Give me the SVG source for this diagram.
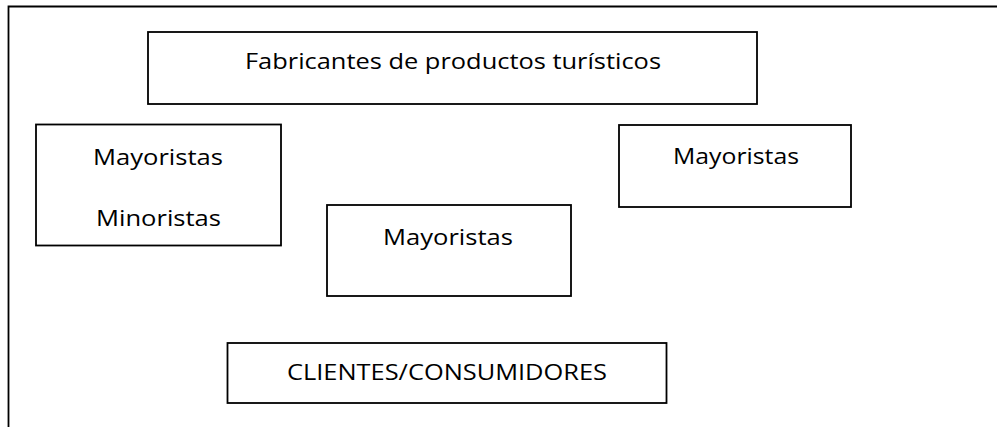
<svg xmlns="http://www.w3.org/2000/svg" width="997" height="427" viewBox="0 0 997 427">
<style>
.box{fill:#fff;stroke:#000;stroke-width:1.8}
.frame{fill:none;stroke:#000;stroke-width:1.8}
text{font-family:"Open Sans","Liberation Sans",sans-serif;font-size:22px;fill:#000}
</style>
<rect width="997" height="427" fill="#fff"/>
<g id="frame"><path class="frame" d="M8.5,427 V6.5 H997"/></g>
<g id="fabricantes">
<rect class="box" x="148" y="32" width="609" height="72"/>
<text x="245" y="69" textLength="416" lengthAdjust="spacingAndGlyphs">Fabricantes de productos turísticos</text>
</g>
<g id="mayoristas-minoristas">
<rect class="box" x="36" y="124.5" width="245" height="121"/>
<text x="93" y="165" textLength="130" lengthAdjust="spacingAndGlyphs">Mayoristas</text>
<text x="96" y="226" textLength="125" lengthAdjust="spacingAndGlyphs">Minoristas</text>
</g>
<g id="mayoristas-derecha">
<rect class="box" x="619" y="125" width="232" height="82"/>
<text x="673" y="164" textLength="126" lengthAdjust="spacingAndGlyphs">Mayoristas</text>
</g>
<g id="mayoristas-centro">
<rect class="box" x="327" y="205" width="244" height="91"/>
<text x="383" y="245" textLength="130" lengthAdjust="spacingAndGlyphs">Mayoristas</text>
</g>
<g id="clientes">
<rect class="box" x="227.5" y="343" width="439" height="60"/>
<text x="287" y="380" textLength="320" lengthAdjust="spacingAndGlyphs">CLIENTES/CONSUMIDORES</text>
</g>
<g id="connectors"></g>
</svg>
